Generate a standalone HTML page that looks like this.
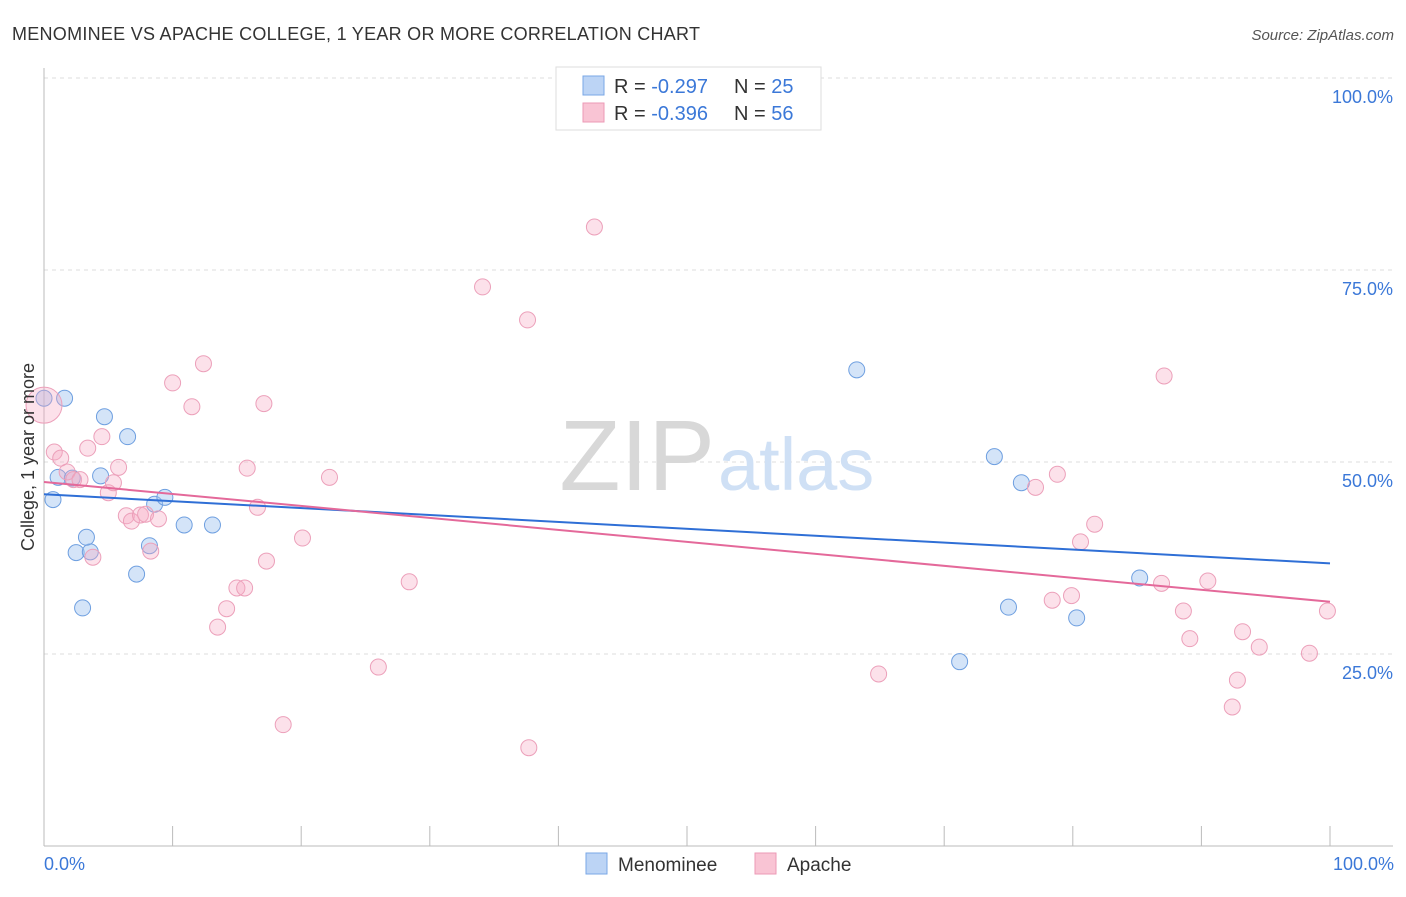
<!DOCTYPE html>
<html><head><meta charset="utf-8"><style>
body{margin:0;background:#fff;font-family:"Liberation Sans",sans-serif;}
svg text{font-family:"Liberation Sans",sans-serif;}
</style></head><body>
<svg id="chart" width="1406" height="892">
<text x="12" y="40" font-size="18" fill="#333" textLength="688">MENOMINEE VS APACHE COLLEGE, 1 YEAR OR MORE CORRELATION CHART</text>
<text x="1394" y="40" font-size="15" fill="#555" font-style="italic" text-anchor="end">Source: ZipAtlas.com</text>
<g id="grid"></g>
<text x="715" y="490" font-size="100" fill="#d8d8d8" text-anchor="end" font-family="Liberation Serif">ZIP</text>
<text x="718" y="490" font-size="74" fill="#cfe0f5">atlas</text>
<g id="axes"></g>
<g id="pts"></g>
<g id="lines"></g>
<text transform="translate(34,457) rotate(-90)" font-size="18" fill="#333" text-anchor="middle">College, 1 year or more</text>
<text x="44" y="870" font-size="18" fill="#3b78d8">0.0%</text>
<text x="1394" y="870" font-size="18" fill="#3b78d8" text-anchor="end">100.0%</text>
<g>
<rect x="556" y="67" width="265" height="63" fill="#fff" stroke="#ddd"/>
<rect x="583" y="76" width="21" height="19" fill="#bcd4f5" stroke="#7aa7e6"/>
<rect x="583" y="103" width="21" height="19" fill="#f9c4d4" stroke="#ec9ab6"/>
<text x="614" y="93" font-size="20" fill="#333">R = <tspan fill="#3b78d8">-0.297</tspan><tspan x="734">N = </tspan><tspan fill="#3b78d8">25</tspan></text>
<text x="614" y="120" font-size="20" fill="#333">R = <tspan fill="#3b78d8">-0.396</tspan><tspan x="734">N = </tspan><tspan fill="#3b78d8">56</tspan></text>
</g>
<g>
<rect x="586" y="853" width="21" height="21" fill="#bcd4f5" stroke="#7aa7e6"/>
<text x="618" y="871" font-size="19" fill="#333">Menominee</text>
<rect x="755" y="853" width="21" height="21" fill="#f9c4d4" stroke="#ec9ab6"/>
<text x="787" y="871" font-size="19" fill="#333">Apache</text>
</g>
</svg>
<script>
const yTicks=[25,50,75,100];
const yTickLabels=["25.0%","50.0%","75.0%","100.0%"];
const xTicks=[0,10,20,30,40,50,60,70,80,90,100];
const menX=[0,1.6,0.7,1.1,4.7,6.5,4.4,2.5,3.6,3.3,3.0,7.2,8.2,8.6,9.4,10.9,13.1,63.2,73.9,76.0,75.0,71.2,80.3,85.2,2.2];
const menY=[58.3,58.3,45.1,48.0,55.9,53.3,48.2,38.2,38.3,40.2,31.0,35.4,39.1,44.5,45.4,41.8,41.8,62.0,50.7,47.3,31.1,24.0,29.7,34.9,47.9];
const apaX=[0,0.8,1.3,1.8,2.3,2.8,3.4,4.5,5.0,5.4,5.8,6.4,6.8,7.5,7.9,8.9,8.3,3.8,10.0,11.5,12.4,13.5,14.2,15.0,15.6,15.8,16.6,17.1,17.3,18.6,20.1,22.2,26.0,28.4,34.1,37.6,37.7,42.8,64.9,77.1,78.4,78.8,79.9,80.6,81.7,86.9,87.1,88.6,89.1,90.5,92.4,92.8,93.2,94.5,98.4,99.8];
const apaY=[57.4,51.3,50.5,48.7,47.7,47.7,51.8,53.3,46.0,47.3,49.3,43.0,42.3,43.1,43.2,42.6,38.4,37.6,60.3,57.2,62.8,28.5,30.9,33.6,33.6,49.2,44.1,57.6,37.1,15.8,40.1,48.0,23.3,34.4,72.8,68.5,12.8,80.6,22.4,46.7,32.0,48.4,32.6,39.6,41.9,34.2,61.2,30.6,27.0,34.5,18.1,21.6,27.9,25.9,25.1,30.6];
const menTrend=[45.8,36.8];
const apaTrend=[47.4,31.8];
const NS="http://www.w3.org/2000/svg";
const sx=v=>44+v*12.86, sy=v=>846-v*7.68;
function mk(t,a,p){const e=document.createElementNS(NS,t);for(const k in a)e.setAttribute(k,a[k]);p.appendChild(e);return e;}
const grid=document.getElementById('grid'),axes=document.getElementById('axes'),pts=document.getElementById('pts'),lines=document.getElementById('lines');
yTicks.forEach((t,i)=>{
 const l=mk('line',{x1:44,x2:1393,y1:sy(t),y2:sy(t),stroke:'#ddd','stroke-dasharray':'4,4'},grid);
 
 
 const tx=mk('text',{x:1393,y:sy(t)+25,'font-size':18,fill:'#3b78d8','text-anchor':'end'},axes);
 tx.textContent=yTickLabels[i];
 
 
});
const ax=mk('line',{x1:44,x2:1393,y1:846,y2:846,stroke:'#bbb'},axes);


const ay=mk('line',{x1:44,x2:44,y1:68,y2:846,stroke:'#bbb'},axes);


xTicks.forEach(t=>{
 const l=mk('line',{x1:sx(t),x2:sx(t),y1:826,y2:846,stroke:'#bbb'},axes);
 
 
});
menX.forEach((x,i)=>{
 const c=mk('circle',{cx:sx(x),cy:sy(menY[i]),r:8,fill:'rgba(160,195,240,0.45)',stroke:'#6e9fe0','stroke-width':1},pts);
 
 
});
apaX.forEach((x,i)=>{
 const c=mk('circle',{cx:sx(x),cy:sy(apaY[i]),r:i===0?18:8,fill:'rgba(246,170,196,0.35)',stroke:'#eca0ba','stroke-width':1},pts);
 
 
});
const t1=mk('line',{x1:sx(0),x2:sx(100),y1:sy(menTrend[0]),y2:sy(menTrend[1]),stroke:'#2f6fd6','stroke-width':2},lines);


const t2=mk('line',{x1:sx(0),x2:sx(100),y1:sy(apaTrend[0]),y2:sy(apaTrend[1]),stroke:'#e4699a','stroke-width':2},lines);


</script>
</body></html>
